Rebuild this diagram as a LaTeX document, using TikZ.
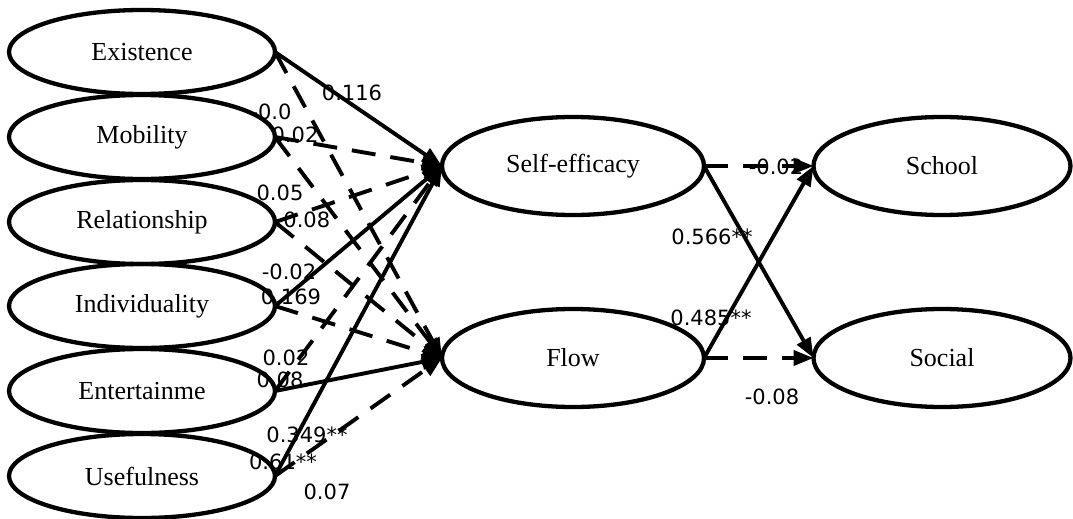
\documentclass[tikz,border=0pt]{standalone}
\usepackage{fontspec}
\setmainfont{Liberation Serif}
\newfontfamily\lblfont{DejaVu Sans}
\usetikzlibrary{shapes.geometric,arrows.meta,backgrounds}
\tikzset{
  var/.style={draw, ellipse, line width=4.3pt, inner sep=0pt, outer sep=0pt,
    minimum width=266pt, minimum height=84pt,
    font=\fontsize{26}{30}\selectfont},
  mid/.style={var, minimum width=262pt, minimum height=98pt},
  path/.style={line width=3.9pt, -{Triangle[length=20pt,width=15pt]}},
  nsig/.style={path, dash pattern=on 24pt off 15pt},
  coef/.style={font=\lblfont\fontsize{21}{24}\selectfont, inner sep=0pt}
}
\begin{document}
\begin{tikzpicture}[x=1pt,y=-1pt]
\useasboundingbox (0,0) rectangle (1073,519);
% nodes
\node[var] (ex) at (142,52) {Existence};
\node[var] (mo) at (142,137) {Mobility};
\node[var] (re) at (142,222) {Relationship};
\node[var] (in) at (142,306) {Individuality};
\node[var] (en) at (142,391) {Entertainme};
\node[var] (us) at (142,476) {Usefulness};
\node[mid] (se) at (573,166) {Self-efficacy};
\node[mid] (fl) at (573,358) {Flow};
\node[mid, minimum width=257pt] (sc) at (942,166) {School};
\node[mid, minimum width=257pt] (so) at (942,358) {Social};
% coefficients
\begin{pgfonlayer}{background}
\node[coef] (l1) at (352,93) {0.116};
\node[coef] (l2) at (271,112) {-0.0};
\node[coef] (l3) at (295,135) {0.02};
\node[coef] (l4) at (280,193) {0.05};
\node[coef] (l5) at (303,220) {-0.08};
\node[coef] (l6) at (289,272) {-0.02};
\node[coef] (l7) at (291,297) {0.169};
\node[coef] (l8) at (286,358) {0.02};
\node[coef] (l9) at (280,380) {0.08};
\node[coef] (l10) at (307,435) {0.349**};
\node[coef] (l11) at (283,462) {0.61**};
\node[coef] (l12) at (327,492) {0.07};
\node[coef] (r1) at (776,167) {-0.02};
\node[coef] (r2) at (712,237) {0.566**};
\node[coef] (r3) at (711,318) {0.485**};
\node[coef] (r4) at (772,397) {-0.08};
\end{pgfonlayer}
% paths to mediators
\draw[path] (ex.east) -- (se.west);
\draw[nsig] (ex.east) -- (fl.west);
\draw[nsig] (mo.east) -- (se.west);
\draw[nsig] (mo.east) -- (fl.west);
\draw[nsig] (re.east) -- (se.west);
\draw[nsig] (re.east) -- (fl.west);
\draw[path] (in.east) -- (se.west);
\draw[nsig] (in.east) -- (fl.west);
\draw[nsig] (en.east) -- (se.west);
\draw[path] (en.east) -- (fl.west);
\draw[path] (us.east) -- (se.west);
\draw[nsig] (us.east) -- (fl.west);
% paths to outcomes
\draw[nsig] (se.east) -- (sc.west);
\draw[path] (se.east) -- (so.west);
\draw[path] (fl.east) -- (sc.west);
\draw[nsig] (fl.east) -- (so.west);
\end{tikzpicture}
\end{document}
